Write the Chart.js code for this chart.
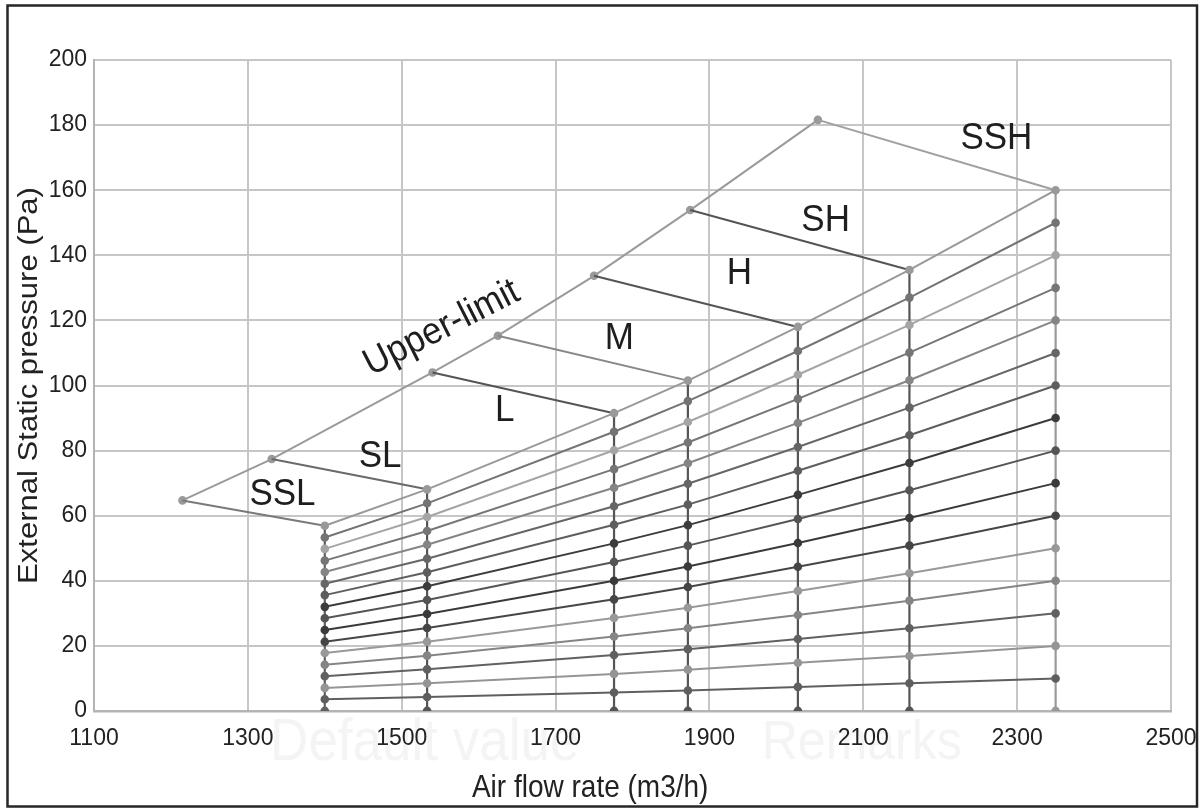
<!DOCTYPE html>
<html>
<head>
<meta charset="utf-8">
<script src="https://cdn.jsdelivr.net/npm/chart.js@4"></script>
<style>
  html, body { margin: 0; padding: 0; background: #fff; }
  #wrap { width: 1204px; height: 812px; }
</style>
</head>
<body>
<div id="wrap"><canvas id="fanChart" width="1204" height="812"></canvas></div>
<script>
// air flow (m3/h) of each tap column and its top pressure (Pa)
const columnX = [1400, 1533, 1776, 1872, 2015, 2160, 2350];
const columnTop = [56.9, 68.1, 91.5, 101.5, 118, 135.5, 160];
const columnColors = ['#606060', '#555555', '#555555', '#555555', '#555555', '#555555', '#9a9a9a'];

// pressure levels, bottom row first, one value per column
const rows = [
  [3.6, 4.3, 5.7, 6.3, 7.4, 8.5, 10],
  [7.1, 8.5, 11.4, 12.7, 14.8, 16.9, 20],
  [10.7, 12.8, 17.2, 19.0, 22.1, 25.4, 30],
  [14.2, 17.0, 22.9, 25.4, 29.5, 33.9, 40],
  [17.8, 21.3, 28.6, 31.7, 36.9, 42.3, 50],
  [21.3, 25.5, 34.3, 38.1, 44.3, 50.8, 60],
  [24.9, 29.8, 40.0, 44.4, 51.6, 59.3, 70],
  [28.5, 34.1, 45.8, 50.8, 59.0, 67.8, 80],
  [32.0, 38.3, 51.5, 57.1, 66.4, 76.2, 90],
  [35.6, 42.6, 57.2, 63.4, 73.8, 84.7, 100],
  [39.1, 46.8, 62.9, 69.8, 81.1, 93.2, 110],
  [42.7, 51.1, 68.6, 76.1, 88.5, 101.6, 120],
  [46.2, 55.3, 74.3, 82.5, 95.9, 110.1, 130],
  [49.8, 59.6, 80.1, 88.8, 103.3, 118.6, 140],
  [53.3, 63.8, 85.8, 95.2, 110.6, 127.0, 150],
  [56.9, 68.1, 91.5, 101.5, 118, 135.5, 160]
];
const rowColors = ['#5f5f5f', '#959595', '#616161', '#858585', '#999999', '#464646', '#3a3a3a', '#555555',
  '#3c3c3c', '#5e5e5e', '#666666', '#858585', '#767676', '#a5a5a5', '#747474', '#999999'];

// upper-limit curve
const upperX = [1215, 1331, 1540, 1625, 1750, 1875, 2041];
const upperY = [64.7, 77.4, 104, 115.3, 133.7, 153.9, 181.6];

// speed taps, each joins an upper-limit point to a column top
const speedNames = ['SSL', 'SL', 'L', 'M', 'H', 'SH', 'SSH'];
const speedColors = ['#7a7a7a', '#6a6a6a', '#555555', '#888888', '#555555', '#555555', '#a0a0a0'];
const labelX = [1345, 1472, 1634, 1783, 1939, 2051, 2273];
const labelY = [66.6, 78.3, 92.2, 114.3, 134.3, 150.8, 175.8];

const xTicks = [1100, 1300, 1500, 1700, 1900, 2100, 2300, 2500];
const yTicks = [0, 20, 40, 60, 80, 100, 120, 140, 160, 180, 200];

const FONT = "'Liberation Sans', Arial, sans-serif";

const datasets = [];

rows.forEach((vals, i) => {
  datasets.push({
    data: columnX.map((x, j) => ({ x: x, y: vals[j] })),
    borderColor: rowColors[i],
    backgroundColor: rowColors[i],
    borderWidth: 2,
    pointRadius: 3.3,
    showLine: true
  });
});

columnX.forEach((x, j) => {
  datasets.push({
    data: [{ x: x, y: 0 }, { x: x, y: columnTop[j] }],
    borderColor: columnColors[j],
    backgroundColor: columnColors[j],
    borderWidth: 2.2,
    pointRadius: [3.3, 0],
    showLine: true
  });
});

speedNames.forEach((name, i) => {
  datasets.push({
    data: [{ x: upperX[i], y: upperY[i] }, { x: columnX[i], y: columnTop[i] }],
    borderColor: speedColors[i],
    backgroundColor: speedColors[i],
    borderWidth: 2,
    pointRadius: 0,
    showLine: true
  });
});

datasets.push({
  data: upperX.map((x, i) => ({ x: x, y: upperY[i] })),
  borderColor: '#9a9a9a',
  backgroundColor: '#9a9a9a',
  borderWidth: 2,
  pointRadius: 3.3,
  showLine: true
});

// text is a bit taller than wide in the source picture
function stretchedText(ctx, text, x, y, size, rot, sx, sy) {
  ctx.save();
  ctx.translate(x, y);
  ctx.rotate(rot);
  ctx.scale(sx, sy);
  ctx.font = size + 'px ' + FONT;
  ctx.textAlign = 'center';
  ctx.textBaseline = 'middle';
  ctx.fillText(text, 0, 0);
  ctx.restore();
}

const decorPlugin = {
  id: 'decor',
  beforeDraw(chart) {
    const ctx = chart.ctx;
    const xs = chart.scales.x;
    const area = chart.chartArea;
    ctx.save();
    ctx.fillStyle = '#ffffff';
    ctx.fillRect(0, 0, chart.width, chart.height);
    // faint watermark left from the source table
    ctx.fillStyle = '#f4f4f4';
    stretchedText(ctx, 'Default value', xs.getPixelForValue(1530), area.bottom + 33, 53, 0, 1, 1.12);
    stretchedText(ctx, 'Remarks', xs.getPixelForValue(2098), area.bottom + 33, 50, 0, 1, 1.12);
    ctx.restore();
  },
  afterDraw(chart) {
    const ctx = chart.ctx;
    const xs = chart.scales.x;
    const ys = chart.scales.y;
    const area = chart.chartArea;
    ctx.save();
    ctx.fillStyle = '#1e1e1e';
    speedNames.forEach((name, i) => {
      stretchedText(ctx, name, xs.getPixelForValue(labelX[i]), ys.getPixelForValue(labelY[i]), 35, 0, 1, 1.08);
    });
    stretchedText(ctx, 'Upper-limit', xs.getPixelForValue(1552), ys.getPixelForValue(117.6), 35, -27 * Math.PI / 180, 1, 1.08);

    // axis titles
    ctx.fillStyle = '#222';
    stretchedText(ctx, 'Air flow rate (m3/h)', xs.getPixelForValue(1745), 788, 28, 0, 1, 1.14);
    stretchedText(ctx, 'External Static pressure (Pa)', 30, (area.top + area.bottom) / 2, 27, -Math.PI / 2, 1.15, 1);
    ctx.restore();

    ctx.save();
    ctx.strokeStyle = '#262626';
    ctx.lineWidth = 2.5;
    ctx.strokeRect(7.5, 5.5, 1189.5, 801);
    ctx.restore();
  }
};

new Chart(document.getElementById('fanChart'), {
  type: 'scatter',
  data: { datasets: datasets },
  plugins: [decorPlugin],
  options: {
    responsive: false,
    animation: false,
    layout: { padding: { top: 60, right: 33, bottom: 0, left: 0 } },
    plugins: {
      legend: { display: false },
      tooltip: { enabled: false }
    },
    scales: {
      x: {
        type: 'linear',
        min: 1100,
        max: 2500,
        afterBuildTicks: (scale) => { scale.ticks = xTicks.map(v => ({ value: v })); },
        afterFit: (scale) => {
          scale.height = 101;
          scale.paddingLeft = 0;
          scale.paddingRight = 0;
        },
        grid: { color: '#c6c6c6', lineWidth: 2, drawTicks: false },
        border: { color: '#b4b4b4', width: 2.5 },
        ticks: { color: '#222', padding: 14, font: { family: FONT, size: 23 }, callback: (v) => String(v) }
      },
      y: {
        type: 'linear',
        min: 0,
        max: 200,
        afterBuildTicks: (scale) => { scale.ticks = yTicks.map(v => ({ value: v })); },
        afterFit: (scale) => { scale.width = 94; },
        grid: { color: '#c6c6c6', lineWidth: 2, drawTicks: false },
        border: { color: '#b4b4b4', width: 2 },
        ticks: { color: '#222', padding: 7, font: { family: FONT, size: 23 }, callback: (v) => String(v) }
      }
    }
  }
});
</script>
</body>
</html>
